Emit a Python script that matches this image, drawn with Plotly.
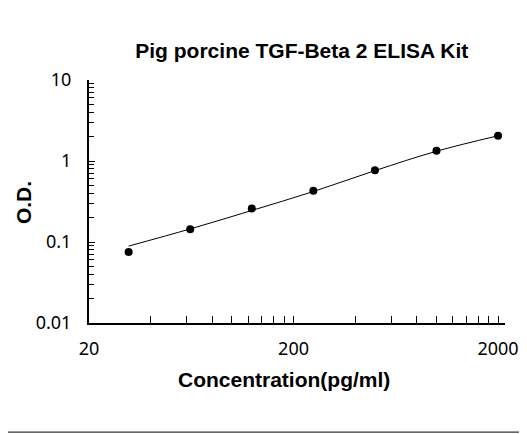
import plotly.graph_objects as go

# standard curve readings
conc = [31.25, 62.5, 125, 250, 500, 1000, 2000]
od = [0.075, 0.144, 0.26, 0.43, 0.77, 1.34, 2.05]

# fitted curve
fit_conc = [31.25, 62.5, 125, 250, 500, 1000, 2000]
fit_od = [0.089, 0.145, 0.245, 0.42, 0.76, 1.32, 2.05]

x_major = [20, 200, 2000]
x_minor = [40, 60, 80, 100, 120, 140, 160, 180, 400, 600, 800, 1000, 1200, 1400, 1600, 1800]
y_major = [0.01, 0.1, 1, 10]
y_minor = [m * d for d in [0.01, 0.1, 1] for m in range(2, 10)]

fig = go.Figure()

fig.add_trace(go.Scatter(
    x=fit_conc, y=fit_od, mode='lines',
    line=dict(color='black', width=1, shape='spline'),
    showlegend=False, hoverinfo='skip'
))

fig.add_trace(go.Scatter(
    x=conc, y=od, mode='markers',
    marker=dict(color='black', size=8),
    showlegend=False
))

# page body has an 8px margin, so the figure is a bit smaller than the window
fig.update_layout(
    width=519, height=426,
    margin=dict(l=81, r=22, t=72, b=111, autoexpand=False),
    paper_bgcolor='white', plot_bgcolor='white',
    font=dict(family='Liberation Sans', color='black'),
    title=dict(
        text='<b>Pig porcine TGF-Beta 2 ELISA Kit</b>',
        x=0.566, xanchor='center', y=0.899, yanchor='middle',
        font=dict(size=21, color='black')
    ),
    shapes=[dict(type='line', xref='paper', yref='paper',
                 x0=-0.22, x1=1.04, y0=-0.449, y1=-0.449,
                 line=dict(color='black', width=1))],
    annotations=[
        dict(text='<b>Concentration(pg/ml)</b>', xref='paper', yref='paper',
             x=0.469, y=-0.232, xanchor='center', yanchor='middle',
             showarrow=False, font=dict(size=21)),
        dict(text='<b>O.D.</b>', xref='paper', yref='paper', textangle=-90,
             x=-0.156, y=0.494, xanchor='center', yanchor='middle',
             showarrow=False, font=dict(size=21)),
    ]
)

fig.update_xaxes(
    type='log', range=[1.301, 3.335], automargin=False,
    tickmode='array', tickvals=x_major, ticktext=['20', '200', '2000'],
    ticks='inside', ticklen=7, tickcolor='black', tickwidth=1,
    minor=dict(tickmode='array', tickvals=x_minor, ticks='inside', ticklen=7,
               tickcolor='black', tickwidth=1),
    showline=True, linecolor='black', linewidth=2,
    showgrid=False, zeroline=False,
    tickfont=dict(family='Noto Sans', size=18),
    ticklabelstandoff=8
)

fig.update_yaxes(
    type='log', range=[-2, 1], automargin=False,
    tickmode='array', tickvals=y_major, ticktext=['0.01', '0.1', '1', '10'],
    ticks='inside', ticklen=6, tickcolor='black', tickwidth=1,
    minor=dict(tickmode='array', tickvals=y_minor, ticks='inside', ticklen=5,
               tickcolor='black', tickwidth=1),
    showline=True, linecolor='black', linewidth=2,
    showgrid=False, zeroline=False,
    tickfont=dict(family='Noto Sans', size=18),
    ticklabelstandoff=12
)

fig.write_html("out.html")
